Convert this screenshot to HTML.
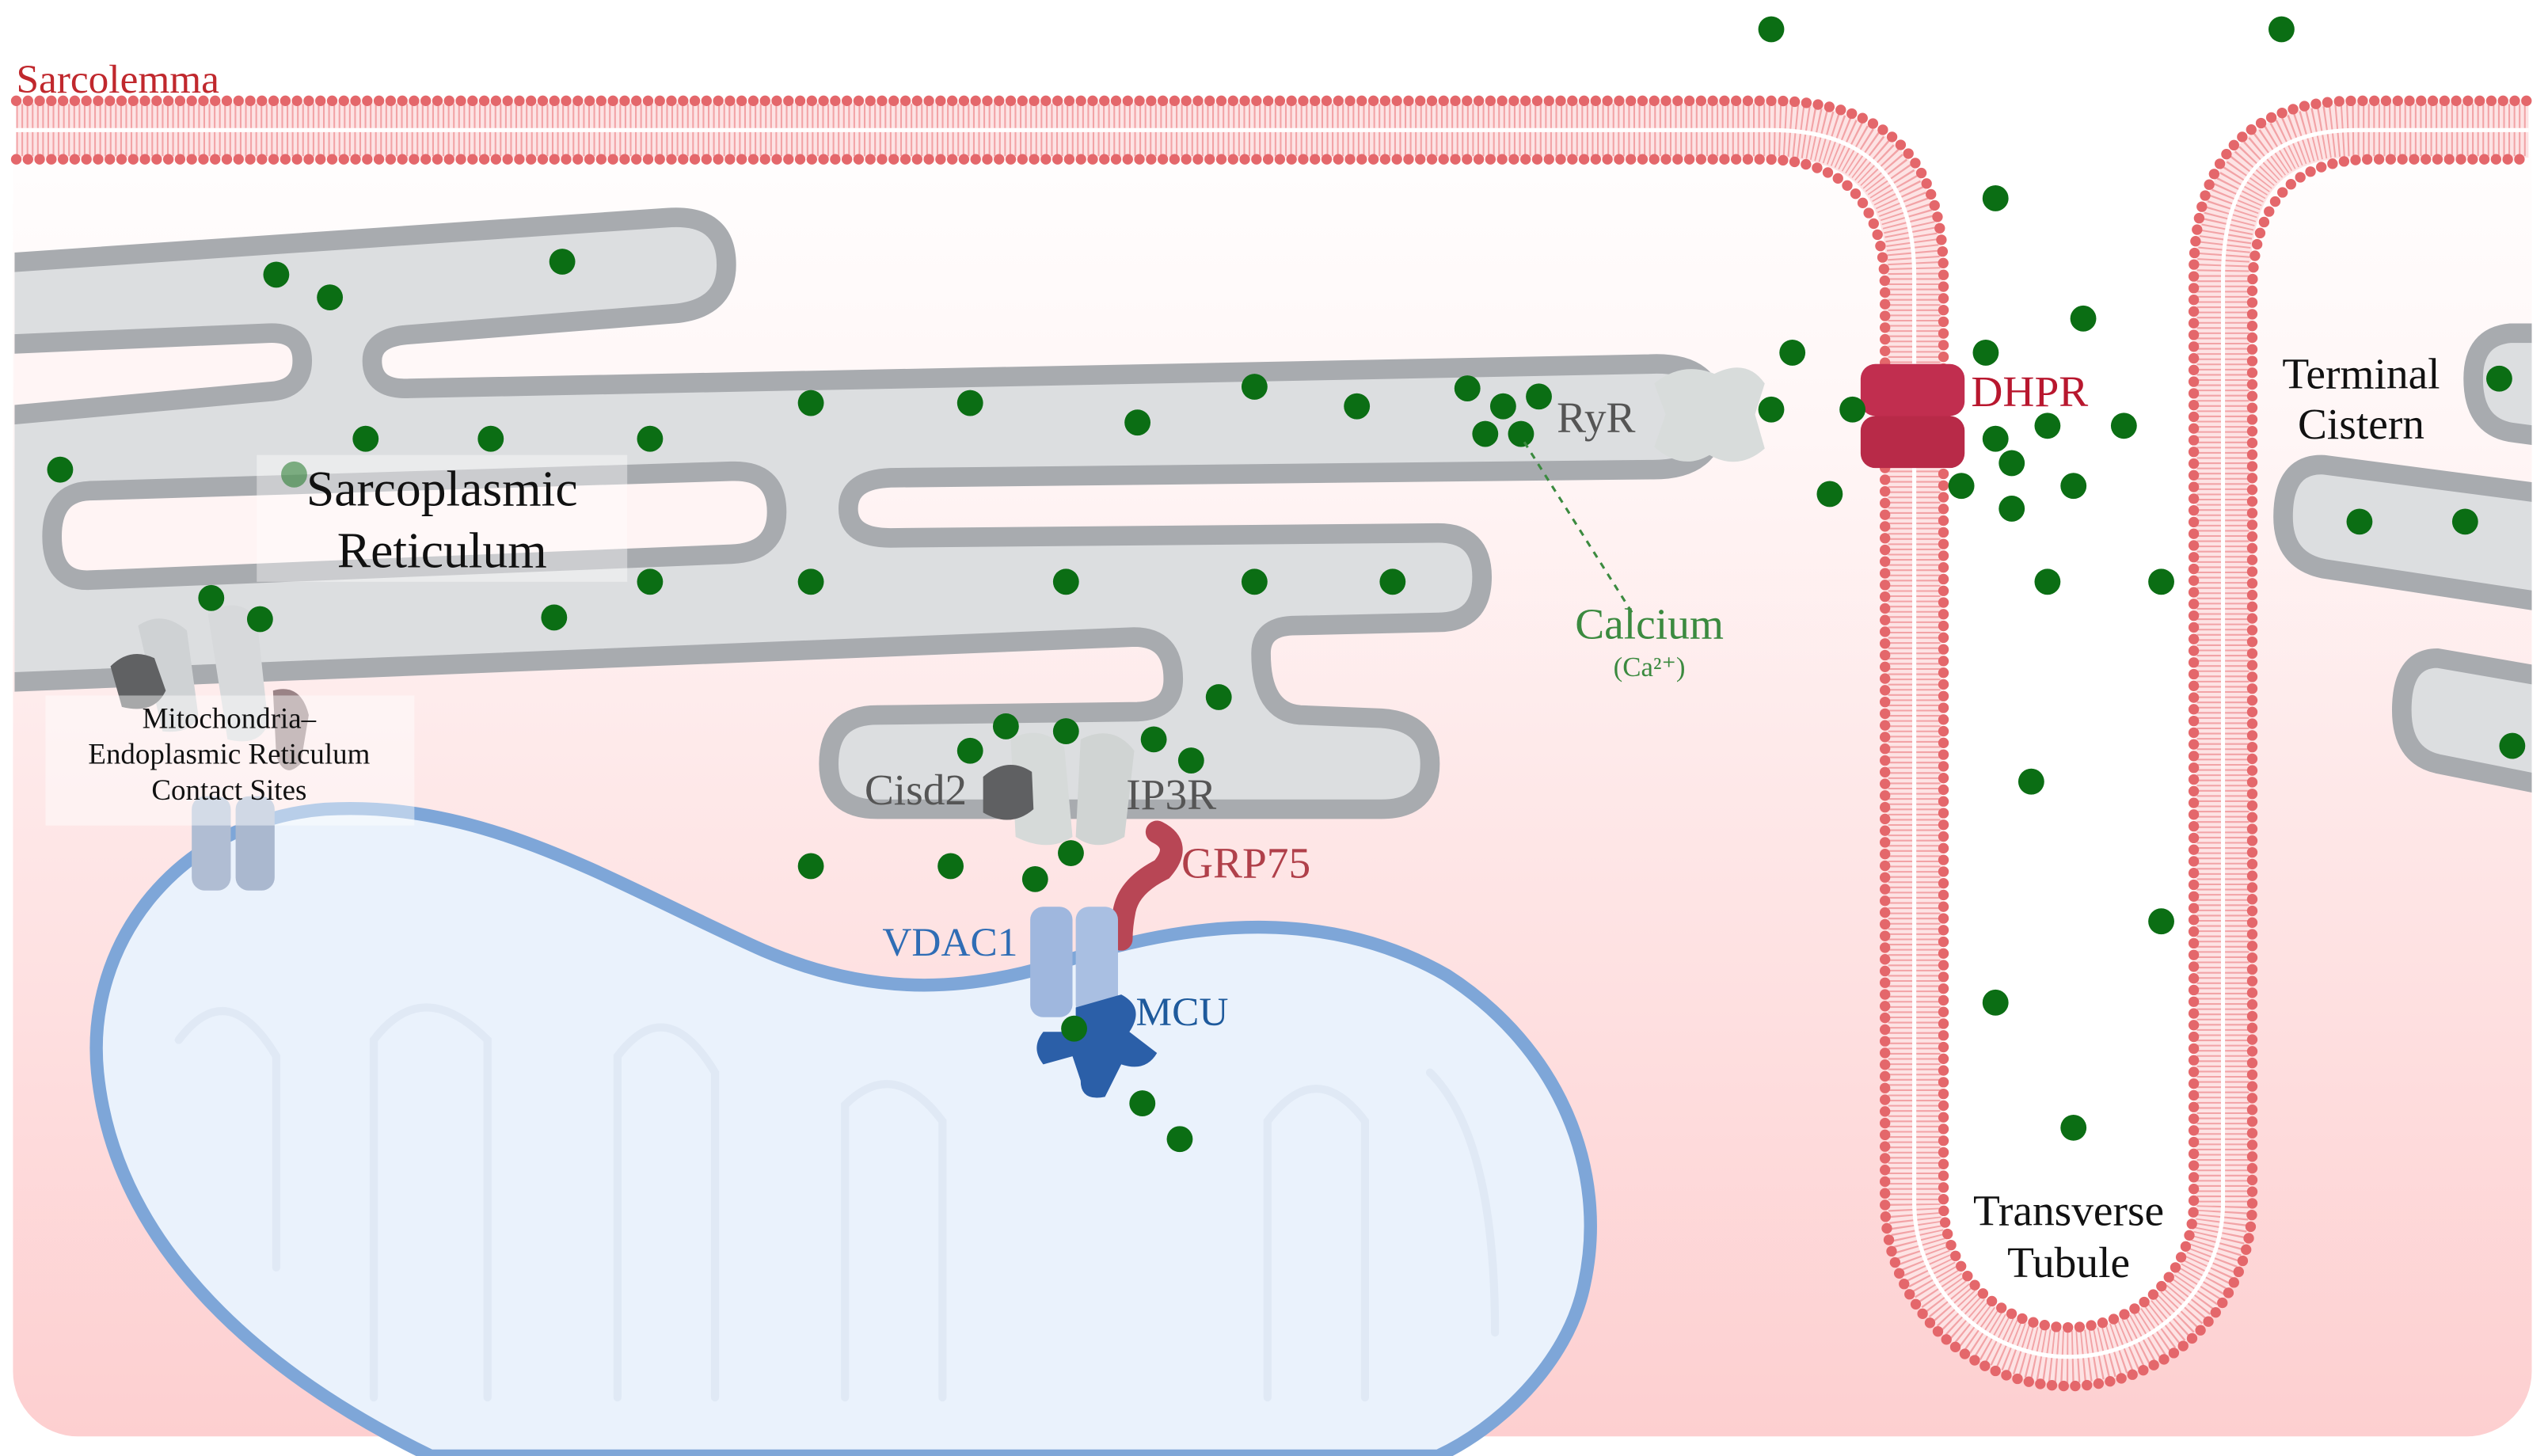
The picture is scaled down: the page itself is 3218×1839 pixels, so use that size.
<!DOCTYPE html>
<html><head><meta charset="utf-8"><style>
html,body{margin:0;padding:0;background:#fff}
svg{display:block}
text{font-family:"Liberation Serif","DejaVu Serif",serif}
</style></head><body>
<svg width="3218" height="1839" viewBox="0 0 1568 896" xmlns="http://www.w3.org/2000/svg">
<defs>
<linearGradient id="bg" x1="0" y1="0" x2="0" y2="1">
<stop offset="0" stop-color="#ffffff"/>
<stop offset="0.25" stop-color="#fff6f6"/>
<stop offset="1" stop-color="#fdcfd0"/>
</linearGradient>
<clipPath id="cell"><rect x="9" y="0" width="1549" height="884" rx="40"/></clipPath>
</defs>
<rect x="8" y="60" width="1550" height="824" rx="40" fill="url(#bg)"/>
<rect x="0" y="0" width="1568" height="80" fill="#fff"/>
<!-- T tubule interior -->
<path d="M1090,0 H1450 V80 Q1368,80 1368,170 V740 A95,95 0 0 1 1178,740 V170 Q1178,80 1090,80 Z" fill="#fff"/>

<g clip-path="url(#cell)">
<!-- SR mass -->
<path d="M0,162 L410,134 Q447,131 447,163 Q447,190 415,193 L250,206 Q229,208 229,222 Q229,240 252,239 L1015,224 Q1056,222 1056,256 Q1056,290 1015,289 L548,294 Q522,295 522,313 Q522,331 548,331 L885,328 Q912,328 912,355 Q912,383 885,383 L795,385 Q776,386 776,402 Q776,438 800,440 L850,442 Q880,444 880,470 Q880,498 850,498 L540,498 Q510,498 510,470 Q510,440 540,440 L700,438 Q722,437 722,418 Q722,392 698,392 L0,420 Z" fill="#dcdee0" stroke="#a8abaf" stroke-width="12" stroke-linejoin="round"/>
<path d="M0,212 L165,205 Q186,204 186,222 Q186,240 165,241 L0,256" fill="#fff5f5" stroke="#a8abaf" stroke-width="12"/>
<path d="M55,302 L450,290 Q478,289 478,315 Q478,340 450,341 L55,357 Q32,358 32,330 Q32,303 55,302 Z" fill="#fff4f4" stroke="#a8abaf" stroke-width="12"/>
<path d="M1575,205 L1545,205 Q1522,207 1522,233 Q1522,262 1545,266 L1575,270" fill="#dcdee0" stroke="#a8abaf" stroke-width="12"/>
<path d="M1575,305 L1430,286 Q1405,285 1405,318 Q1405,345 1430,350 L1575,372" fill="#dcdee0" stroke="#a8abaf" stroke-width="12"/>
<path d="M1575,418 L1500,405 Q1478,405 1478,437 Q1478,465 1500,470 L1575,485" fill="#dcdee0" stroke="#a8abaf" stroke-width="12"/>
</g>

<!-- Sarcolemma membrane -->
<g fill="none">
<path d="M10,80 H1090 Q1178,80 1178,170 V740 A95,95 0 0 0 1368,740 V170 Q1368,80 1450,80 H1556" stroke="#fde3e4" stroke-width="34"/>
<path d="M10,80 H1090 Q1178,80 1178,170 V740 A95,95 0 0 0 1368,740 V170 Q1368,80 1450,80 H1556" stroke="#f2a3a6" stroke-width="32" stroke-dasharray="1 2.2"/>
<path d="M10,80 H1090 Q1178,80 1178,170 V740 A95,95 0 0 0 1368,740 V170 Q1368,80 1450,80 H1556" stroke="#fff" stroke-width="2.5"/>
<path d="M10,62 H1090 Q1196,62 1196,170 V740 A77,77 0 0 0 1350,740 V170 Q1350,62 1450,62 H1556" stroke="#e4676b" stroke-width="6.5" stroke-dasharray="0 7.2" stroke-linecap="round"/>
<path d="M10,98 H1085 Q1160,98 1160,180 V740 A113,113 0 0 0 1386,740 V180 Q1386,98 1460,98 H1556" stroke="#e4676b" stroke-width="6.5" stroke-dasharray="0 7.2" stroke-linecap="round"/>
</g>

<!-- Mitochondrion -->
<path d="M265,896 C150,840 70,760 60,660 C52,580 110,505 200,498 C300,492 380,545 470,585 C540,615 600,610 660,590 C740,565 820,560 890,600 C960,645 990,720 975,790 C965,840 920,880 885,896 Z" fill="#eaf2fc" stroke="#7ea6d8" stroke-width="8"/>
<g fill="none" stroke="#e0e9f5" stroke-width="5" stroke-linecap="round">
<path d="M110,640 Q140,600 170,650 L170,780"/><path d="M230,860 L230,640 Q260,600 300,640 L300,860"/>
<path d="M380,860 L380,650 Q410,610 440,660 L440,860"/><path d="M520,860 L520,680 Q550,650 580,690 L580,860"/>
<path d="M780,860 L780,690 Q810,650 840,690 L840,860"/><path d="M880,660 Q920,700 920,820"/>
</g>

<!-- MAM proteins -->
<g>
<path d="M85,385 Q100,375 115,388 L122,440 Q118,452 100,450 Z" fill="#cfd2d4"/>
<path d="M128,378 Q145,366 158,380 L165,445 Q160,460 140,455 Z" fill="#d7d9db"/>
<path d="M68,410 Q80,398 95,405 L102,425 Q95,440 75,435 Z" fill="#606163"/>
<path d="M168,425 Q185,420 190,440 L185,470 Q175,480 170,465 Z" fill="#9a8386"/>
<rect x="118" y="490" width="24" height="58" rx="8" fill="#b0bdd3"/><rect x="145" y="490" width="24" height="58" rx="8" fill="#aab8cf"/>
</g>
<rect x="28" y="428" width="227" height="80" fill="#ffffff" opacity="0.45"/>
<rect x="158" y="280" width="228" height="78" fill="#ffffff" opacity="0.4"/>

<!-- RyR -->
<path d="M1018,236 Q1035,222 1055,230 Q1075,220 1086,236 L1080,255 L1086,276 Q1070,290 1052,280 Q1035,290 1018,275 L1025,255 Z" fill="#d8dcdb"/>
<!-- DHPR -->
<rect x="1145" y="224" width="64" height="32" rx="9" fill="#c12e4f"/>
<rect x="1145" y="256" width="64" height="32" rx="9" fill="#b82a48"/>
<!-- IP3R / Cisd2 -->
<path d="M622,455 Q640,445 655,460 L660,515 Q645,525 625,515 Z" fill="#d6dad9"/>
<path d="M665,455 Q685,445 698,462 L692,515 Q675,525 662,515 Z" fill="#d0d4d3"/>
<path d="M605,478 Q620,465 635,475 L636,498 Q622,510 605,500 Z" fill="#5f6062"/>
<!-- GRP75 -->
<path d="M712,512 Q728,520 715,535 Q695,545 692,560 Q690,570 690,578" fill="none" stroke="#b84655" stroke-width="14" stroke-linecap="round"/>
<!-- VDAC1 -->
<rect x="634" y="558" width="26" height="68" rx="8" fill="#9fb7de"/><rect x="662" y="558" width="26" height="68" rx="8" fill="#a9bfe2"/>
<!-- MCU -->
<path d="M662,620 L690,612 Q705,620 695,635 L712,648 Q705,660 690,655 L680,675 Q665,678 665,665 L660,650 L642,655 Q634,645 642,635 L662,635 Z" fill="#2b5fa8"/>

<!-- Calcium dots -->
<g fill="#0b6e14">
<circle cx="1090" cy="18" r="8"/><circle cx="1404" cy="18" r="8"/><circle cx="1228" cy="122" r="8"/><circle cx="1282" cy="196" r="8"/>
<circle cx="1103" cy="217" r="8"/><circle cx="1222" cy="217" r="8"/><circle cx="1090" cy="252" r="8"/><circle cx="1140" cy="252" r="8"/>
<circle cx="1228" cy="270" r="8"/><circle cx="1260" cy="262" r="8"/><circle cx="1307" cy="262" r="8"/><circle cx="1238" cy="285" r="8"/>
<circle cx="1207" cy="299" r="8"/><circle cx="1126" cy="304" r="8"/><circle cx="1238" cy="313" r="8"/><circle cx="1276" cy="299" r="8"/>
<circle cx="1260" cy="358" r="8"/><circle cx="1330" cy="358" r="8"/><circle cx="1538" cy="233" r="8"/><circle cx="1452" cy="321" r="8"/>
<circle cx="1517" cy="321" r="8"/><circle cx="1546" cy="459" r="8"/><circle cx="1250" cy="481" r="8"/><circle cx="1330" cy="567" r="8"/>
<circle cx="1228" cy="617" r="8"/><circle cx="1276" cy="694" r="8"/>
<circle cx="170" cy="169" r="8"/><circle cx="203" cy="183" r="8"/><circle cx="346" cy="161" r="8"/><circle cx="37" cy="289" r="8"/>
<circle cx="225" cy="270" r="8"/><circle cx="302" cy="270" r="8"/><circle cx="400" cy="270" r="8"/><circle cx="499" cy="248" r="8"/>
<circle cx="597" cy="248" r="8"/><circle cx="700" cy="260" r="8"/><circle cx="772" cy="238" r="8"/><circle cx="835" cy="250" r="8"/>
<circle cx="903" cy="239" r="8"/><circle cx="925" cy="250" r="8"/><circle cx="947" cy="244" r="8"/><circle cx="914" cy="267" r="8"/>
<circle cx="936" cy="267" r="8"/><circle cx="400" cy="358" r="8"/><circle cx="499" cy="358" r="8"/><circle cx="656" cy="358" r="8"/>
<circle cx="772" cy="358" r="8"/><circle cx="857" cy="358" r="8"/><circle cx="341" cy="380" r="8"/><circle cx="130" cy="368" r="8"/>
<circle cx="160" cy="381" r="8"/><circle cx="750" cy="429" r="8"/><circle cx="619" cy="447" r="8"/><circle cx="656" cy="450" r="8"/>
<circle cx="710" cy="455" r="8"/><circle cx="733" cy="468" r="8"/><circle cx="597" cy="462" r="8"/><circle cx="499" cy="533" r="8"/>
<circle cx="585" cy="533" r="8"/><circle cx="637" cy="541" r="8"/><circle cx="659" cy="525" r="8"/><circle cx="661" cy="633" r="8"/>
<circle cx="703" cy="679" r="8"/><circle cx="726" cy="701" r="8"/>
<circle cx="181" cy="292" r="8" opacity="0.5"/>
</g>
<line x1="938" y1="272" x2="1005" y2="378" stroke="#3b8a3f" stroke-width="1.5" stroke-dasharray="4 4"/>

<!-- Labels -->
<text x="10" y="57" font-size="25" fill="#c0282d">Sarcolemma</text>
<text x="272" y="311" font-size="31" fill="#111" text-anchor="middle">Sarcoplasmic</text>
<text x="272" y="349" font-size="31" fill="#111" text-anchor="middle">Reticulum</text>
<text x="141" y="448" font-size="18" fill="#111" text-anchor="middle">Mitochondria–</text>
<text x="141" y="470" font-size="18" fill="#111" text-anchor="middle">Endoplasmic Reticulum</text>
<text x="141" y="492" font-size="18" fill="#111" text-anchor="middle">Contact Sites</text>
<text x="958" y="266" font-size="27" fill="#555">RyR</text>
<text x="1213" y="250" font-size="27" fill="#b8172e">DHPR</text>
<text x="1453" y="239" font-size="27" fill="#111" text-anchor="middle">Terminal</text>
<text x="1453" y="270" font-size="27" fill="#111" text-anchor="middle">Cistern</text>
<text x="1015" y="393" font-size="27" fill="#3b8a3f" text-anchor="middle">Calcium</text>
<text x="1015" y="416" font-size="17" fill="#3b8a3f" text-anchor="middle">(Ca²⁺)</text>
<text x="532" y="495" font-size="27" fill="#555">Cisd2</text>
<text x="693" y="498" font-size="27" fill="#555">IP3R</text>
<text x="727" y="540" font-size="27" fill="#b0404a">GRP75</text>
<text x="543" y="588" font-size="25" fill="#2f6db5">VDAC1</text>
<text x="699" y="631" font-size="25" fill="#1e5a9c">MCU</text>
<text x="1273" y="754" font-size="27" fill="#111" text-anchor="middle">Transverse</text>
<text x="1273" y="786" font-size="27" fill="#111" text-anchor="middle">Tubule</text>
</svg>
</body></html>
